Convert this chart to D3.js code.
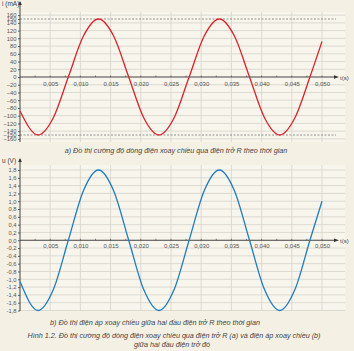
<!DOCTYPE html>
<html>
<head>
<meta charset="utf-8">
<script src="https://cdn.jsdelivr.net/npm/d3@7"></script>
<style>
  html, body { margin: 0; padding: 0; background: #f4f0e4; }
  svg { display: block; font-family: "Liberation Sans", Arial, sans-serif; }
  .tick text { fill: #555; }
  .cap { fill: #444; font-style: italic; }
</style>
</head>
<body>
<svg id="chart" width="354" height="351"></svg>
<script>
// time samples (s)
const tSamples = [0, 0.003, 0.0055, 0.008, 0.0105, 0.013, 0.0155, 0.018, 0.0205, 0.023,
  0.0255, 0.028, 0.0305, 0.033, 0.0355, 0.038, 0.0405, 0.043, 0.0455, 0.048, 0.05];
// current i (mA)
const iValues = [-88, -150, -106, 0, 106, 150, 106, 0, -106, -150,
  -106, 0, 106, 150, 106, 0, -106, -150, -106, 0, 92];
// voltage u (V)
const uValues = [-1.06, -1.8, -1.27, 0, 1.27, 1.8, 1.27, 0, -1.27, -1.8,
  -1.27, 0, 1.27, 1.8, 1.27, 0, -1.27, -1.8, -1.27, 0, 1.0];

const tTicks = [0.005, 0.01, 0.015, 0.02, 0.025, 0.03, 0.035, 0.04, 0.045, 0.05];
const tMinor = [0.0025, 0.0075, 0.0125, 0.0175, 0.0225, 0.0275, 0.0325, 0.0375, 0.0425, 0.0475];
const iTicks = [160, 150, 140, 120, 100, 80, 60, 40, 20, 0, -20, -40, -60, -80, -100, -120, -140, -150, -160];
const iGrid = [160, 140, 120, 100, 80, 60, 40, 20, -20, -40, -60, -80, -100, -120, -140, -160];
const uTicks = [1.8, 1.6, 1.4, 1.2, 1.0, 0.8, 0.6, 0.4, 0.2, 0, -0.2, -0.4, -0.6, -0.8, -1.0, -1.2, -1.4, -1.6, -1.8];

const locale = d3.formatLocale({decimal: ",", thousands: ".", grouping: [3], currency: ["", ""], minus: "-"});
const fmtT = locale.format(".3f");
const fmtU = locale.format(".1f");

const svg = d3.select("#chart");

function panel(opts) {
  const x = d3.scaleLinear().domain([0, 0.05]).range([20, 322]);
  const y = d3.scaleLinear().domain(opts.domain).range(opts.range);
  const g = svg.append("g");

  // plot background
  g.append("rect")
    .attr("x", 20).attr("y", opts.gridTop)
    .attr("width", 325).attr("height", opts.gridBottom - opts.gridTop)
    .attr("fill", "#f8f5ec");

  // horizontal grid
  g.selectAll(".hg").data(opts.grid).enter().append("line")
    .attr("x1", 20).attr("x2", 345)
    .attr("y1", d => y(d)).attr("y2", d => y(d))
    .attr("stroke", "#d6d3cb").attr("stroke-width", 0.8);
  // vertical grid
  g.selectAll(".vg").data(tTicks).enter().append("line")
    .attr("x1", d => x(d)).attr("x2", d => x(d))
    .attr("y1", opts.gridTop).attr("y2", opts.gridBottom)
    .attr("stroke", "#d6d3cb").attr("stroke-width", 0.8);

  // dashed amplitude lines
  if (opts.dashed) {
    g.selectAll(".dl").data(opts.dashed).enter().append("line")
      .attr("x1", 20).attr("x2", 336)
      .attr("y1", d => y(d)).attr("y2", d => y(d))
      .attr("stroke", "#777").attr("stroke-width", 0.8)
      .attr("stroke-dasharray", "2,1.5");
  }

  // y axis
  const yAxis = g.append("g")
    .attr("transform", "translate(20,0)")
    .call(d3.axisLeft(y).tickValues(opts.ticks).tickSize(2).tickPadding(1.5).tickFormat(opts.fmt));
  yAxis.select(".domain").remove();
  yAxis.selectAll(".tick line").attr("stroke", "#666");
  yAxis.selectAll("text").attr("font-size", 5.8);
  g.append("line")
    .attr("x1", 20).attr("x2", 20)
    .attr("y1", opts.gridBottom).attr("y2", opts.axisTop)
    .attr("stroke", "#444").attr("stroke-width", 1);
  g.append("path")
    .attr("d", `M18.2,${opts.axisTop + 3}L20,${opts.axisTop - 1}L21.8,${opts.axisTop + 3}Z`)
    .attr("fill", "#333");
  g.append("text")
    .attr("x", 2).attr("y", opts.axisTop + 4)
    .attr("font-size", 6.5).attr("fill", "#444")
    .text(opts.label);

  // x axis
  const y0 = y(0);
  const xAxis = g.append("g")
    .attr("transform", `translate(0,${y0})`)
    .call(d3.axisBottom(x).tickValues(tTicks).tickSize(0).tickPadding(opts.xPad).tickFormat(fmtT));
  xAxis.select(".domain").remove();
  xAxis.selectAll("text").attr("font-size", 6);
  g.selectAll(".mt").data(tTicks.concat(tMinor)).enter().append("line")
    .attr("x1", d => x(d)).attr("x2", d => x(d))
    .attr("y1", y0 - 1.5).attr("y2", y0)
    .attr("stroke", "#555").attr("stroke-width", 0.7);
  g.append("line")
    .attr("x1", 20).attr("x2", 336)
    .attr("y1", y0).attr("y2", y0)
    .attr("stroke", "#444").attr("stroke-width", 1);
  g.append("path")
    .attr("d", `M334,${y0 - 1.8}L339,${y0}L334,${y0 + 1.8}Z`)
    .attr("fill", "#333");
  g.append("text")
    .attr("x", 340).attr("y", y0 + 2.5)
    .attr("font-size", 6).attr("fill", "#444")
    .text("t(s)");

  // curve
  const line = d3.line()
    .x((d, i) => x(tSamples[i]))
    .y(d => y(d))
    .curve(d3.curveMonotoneX);
  g.append("path")
    .datum(opts.values)
    .attr("d", line)
    .attr("fill", "none")
    .attr("stroke", opts.color)
    .attr("stroke-width", 1.3);
}

panel({
  domain: [-150, 150], range: [135, 19],
  ticks: iTicks, grid: iGrid, fmt: d3.format("d"),
  gridTop: 12, gridBottom: 142, axisTop: 2, xPad: 5,
  dashed: [150, -150], label: "i (mA)",
  values: iValues, color: "#d8242b"
});

panel({
  domain: [-1.8, 1.8], range: [310.5, 170],
  ticks: uTicks, grid: uTicks.filter(d => d !== 0), fmt: fmtU,
  gridTop: 165, gridBottom: 311, axisTop: 159, xPad: 3,
  dashed: null, label: "u (V)",
  values: uValues, color: "#1f7cc1"
});

// captions
const caps = [
  {x: 176, y: 153, s: 7.2, t: "a) Đồ thị cường độ dòng điện xoay chiều qua điện trở R theo thời gian"},
  {x: 155, y: 325, s: 7.2, t: "b) Đồ thị điện áp xoay chiều giữa hai đầu điện trở R theo thời gian"},
  {x: 174, y: 338, s: 7.2, t: "Hình 1.2. Đồ thị cường độ dòng điện xoay chiều qua điện trở R (a) và điện áp xoay chiều (b)"},
  {x: 172, y: 347, s: 7.2, t: "giữa hai đầu điện trở đó"}
];
svg.selectAll(".cap").data(caps).enter().append("text")
  .attr("class", "cap")
  .attr("x", d => d.x).attr("y", d => d.y)
  .attr("font-size", d => d.s)
  .attr("text-anchor", "middle")
  .text(d => d.t);
</script>
</body>
</html>
